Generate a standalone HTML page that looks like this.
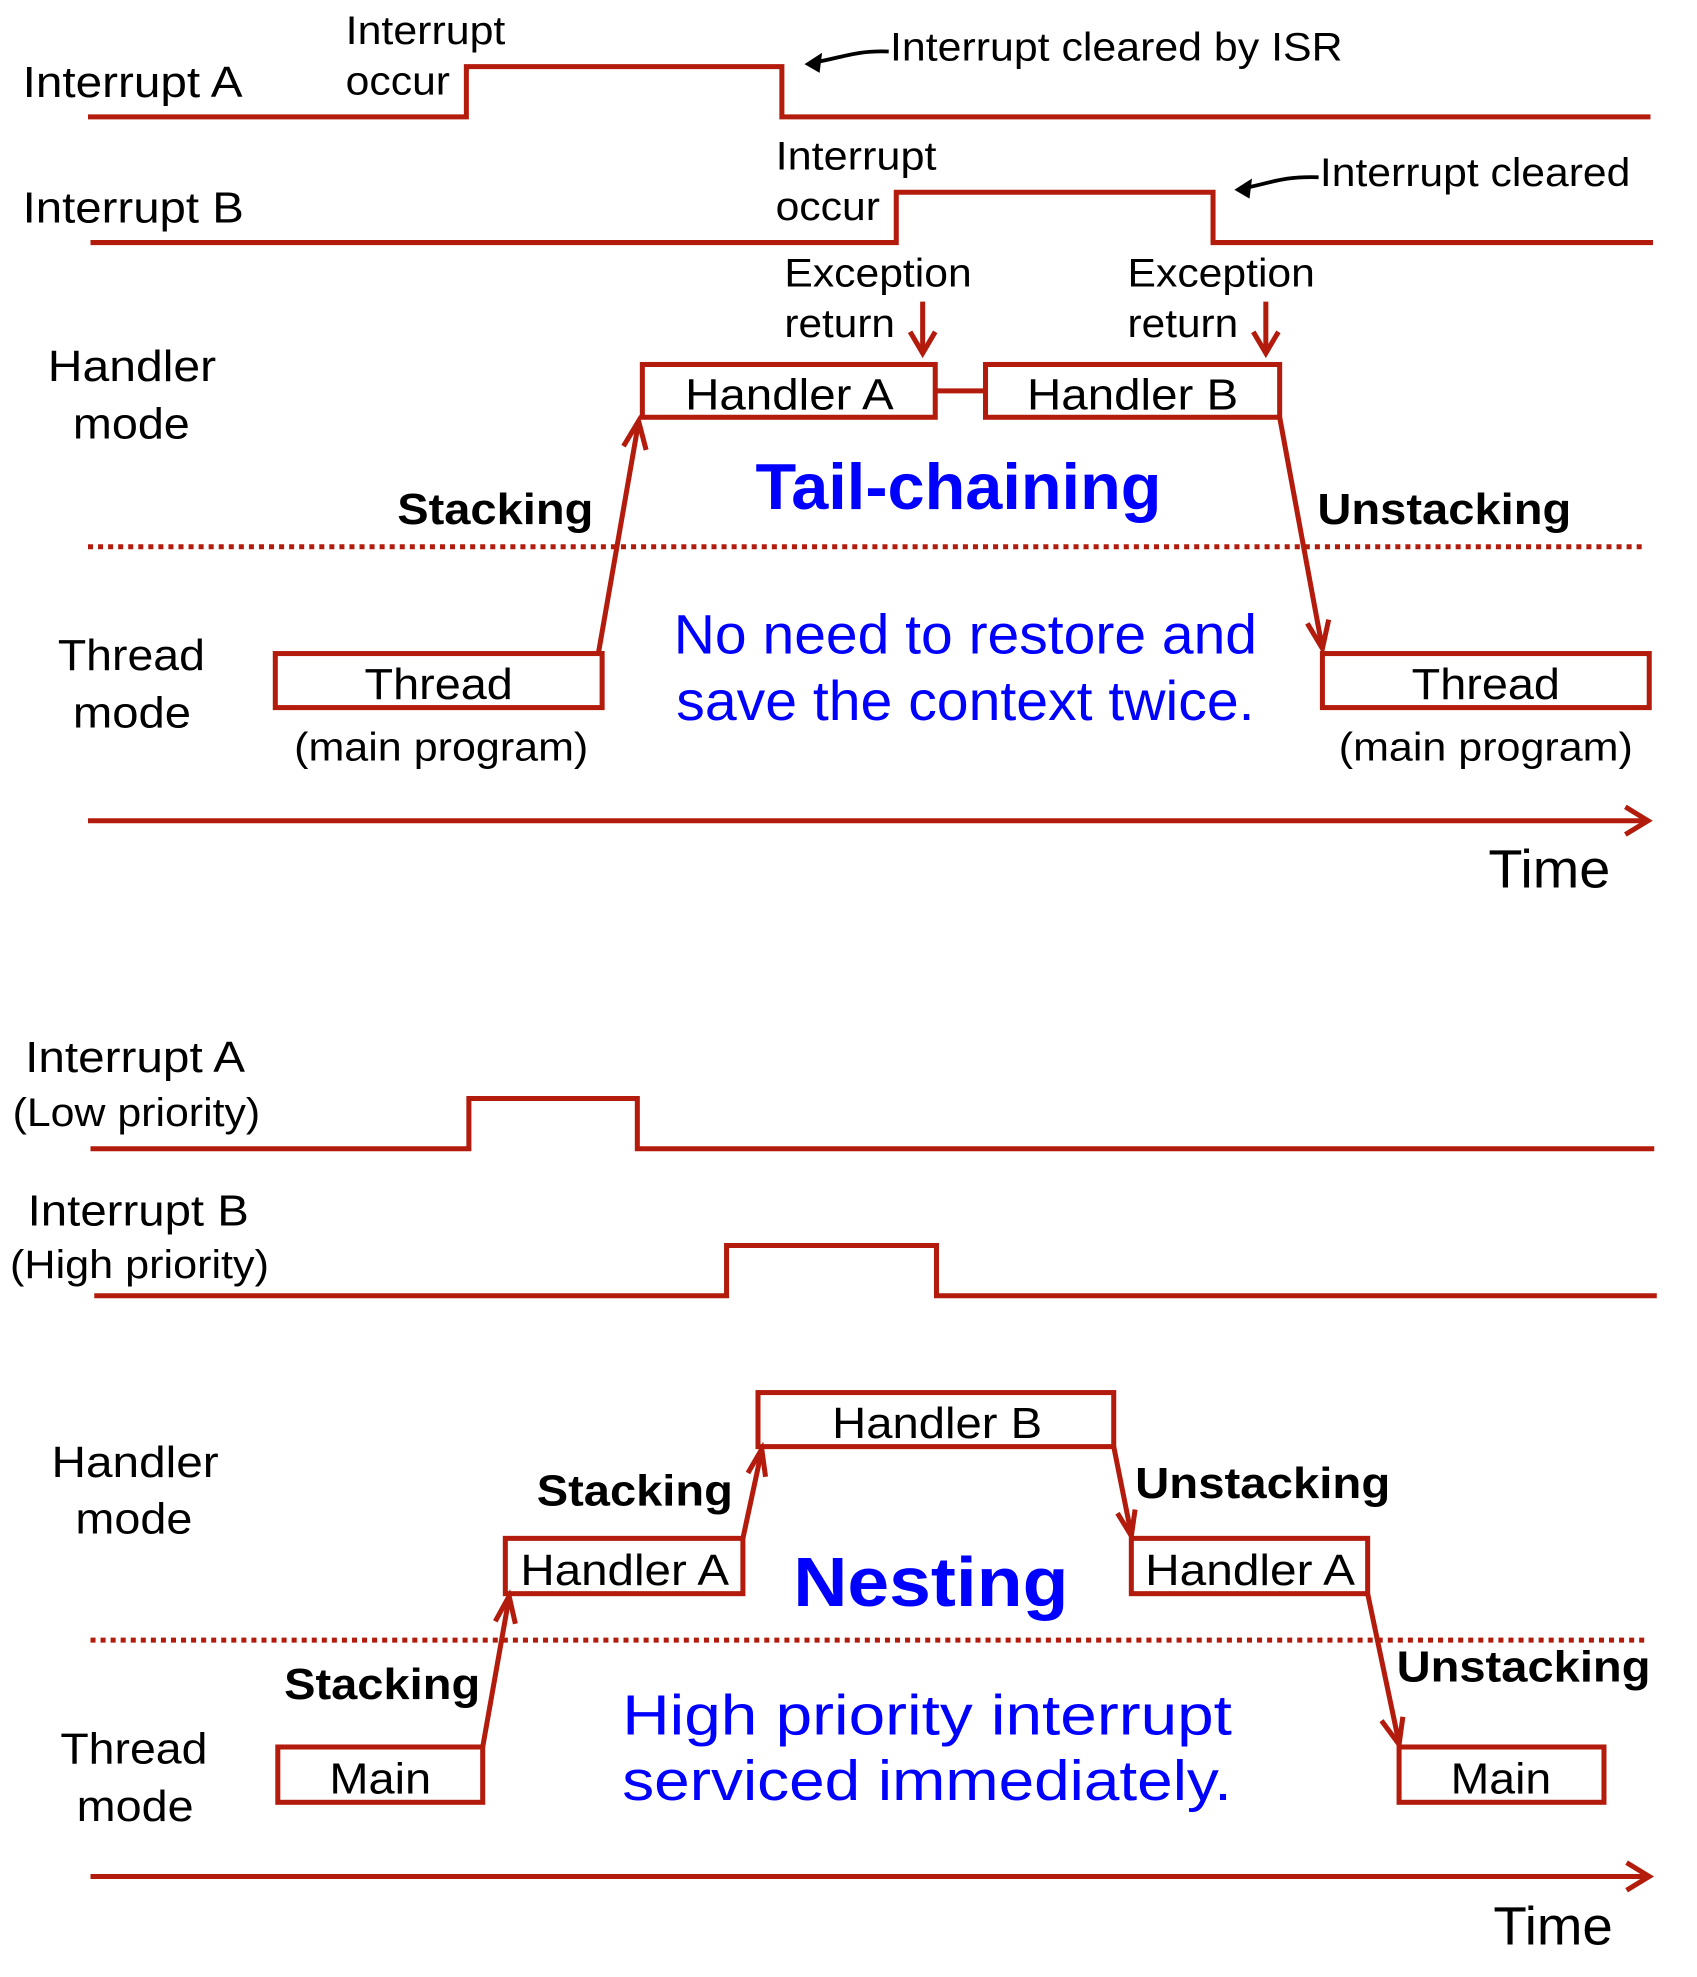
<!DOCTYPE html>
<html><head><meta charset="utf-8"><style>
html,body{margin:0;padding:0;background:#fff;}
svg{display:block;}
text{font-family:"Liberation Sans",Arial,sans-serif;fill:#000;}
.b{font-weight:bold;}
.blue{fill:#0000ff;}
</style></head><body>
<svg width="1697" height="1977" viewBox="0 0 1350 1573" preserveAspectRatio="none" xmlns="http://www.w3.org/2000/svg">
<g fill="none" stroke="#b31b0c" stroke-width="4">
<polyline points="70,93 371,93 371,53 622,53 622,93 1313,93"/>
<polyline points="72,193 713,193 713,153 965,153 965,193 1315,193"/>
<line x1="734" y1="240" x2="734" y2="280"/><polyline points="724,264 734,281 744,264"/>
<line x1="1007" y1="240" x2="1007" y2="280"/><polyline points="997,264 1007,281 1017,264"/>
<rect x="511" y="290" width="233" height="42"/>
<rect x="784" y="290" width="234" height="42"/>
<line x1="744" y1="311" x2="784" y2="311"/>
<rect x="219" y="520" width="260" height="43"/>
<rect x="1052" y="520" width="260" height="43"/>
<line x1="476" y1="520" x2="508" y2="336"/><polyline points="496,355 508,335 514,358"/>
<line x1="1018" y1="332" x2="1052" y2="516"/><polyline points="1040,496 1052,516 1057,493"/>
<line x1="70" y1="653" x2="1310" y2="653"/><polyline points="1293,642 1311,653 1293,664"/>
<polyline points="72,914 373,914 373,874 507,874 507,914 1316,914"/>
<polyline points="75,1031 578,1031 578,991 745,991 745,1031 1318,1031"/>
<rect x="603" y="1108" width="283" height="43"/>
<rect x="402" y="1224" width="189" height="44"/>
<rect x="900" y="1224" width="188" height="44"/>
<rect x="221" y="1390" width="163" height="44"/>
<rect x="1113" y="1390" width="163" height="44"/>
<line x1="384" y1="1390" x2="405" y2="1271"/><polyline points="394,1290 405,1270 410,1292"/>
<line x1="591" y1="1224" x2="606" y2="1154"/><polyline points="595,1172 606,1153 609,1175"/>
<line x1="886" y1="1151" x2="900" y2="1221"/><polyline points="889,1204 900,1222 903,1201"/>
<line x1="1088" y1="1268" x2="1113" y2="1387"/><polyline points="1099,1369 1113,1388 1116,1366"/>
<line x1="72" y1="1493" x2="1310" y2="1493"/><polyline points="1294,1482 1312,1493 1294,1504"/>
</g>
<g stroke="#b31b0c" stroke-width="4" stroke-dasharray="4,4">
<line x1="70" y1="435" x2="1310" y2="435"/>
<line x1="72" y1="1305" x2="1312" y2="1305"/>
</g>
<g fill="none" stroke="#000" stroke-width="3">
<path d="M707,41 C680,40 670,46 646,50"/>
<path d="M1049,141 C1020,140 1010,146 988,150"/>
</g>
<polygon points="640,51 654,42 652,58" fill="#000"/>
<polygon points="982,151 996,142 994,158" fill="#000"/>
<g font-size="35" lengthAdjust="spacingAndGlyphs">
<text x="18" y="77" textLength="175" lengthAdjust="spacingAndGlyphs">Interrupt A</text>
<text x="18" y="177" textLength="176" lengthAdjust="spacingAndGlyphs">Interrupt B</text>
<text x="38" y="303" textLength="134" lengthAdjust="spacingAndGlyphs">Handler</text>
<text x="58" y="349" textLength="93" lengthAdjust="spacingAndGlyphs">mode</text>
<text x="46" y="533" textLength="117" lengthAdjust="spacingAndGlyphs">Thread</text>
<text x="58" y="579" textLength="94" lengthAdjust="spacingAndGlyphs">mode</text>
<text x="545" y="326" textLength="166" lengthAdjust="spacingAndGlyphs">Handler A</text>
<text x="817" y="326" textLength="168" lengthAdjust="spacingAndGlyphs">Handler B</text>
<text x="290" y="556" textLength="118" lengthAdjust="spacingAndGlyphs">Thread</text>
<text x="1123" y="556" textLength="118" lengthAdjust="spacingAndGlyphs">Thread</text>
<text x="20" y="853" textLength="175" lengthAdjust="spacingAndGlyphs">Interrupt A</text>
<text x="22" y="975" textLength="176" lengthAdjust="spacingAndGlyphs">Interrupt B</text>
<text x="41" y="1175" textLength="133" lengthAdjust="spacingAndGlyphs">Handler</text>
<text x="60" y="1220" textLength="93" lengthAdjust="spacingAndGlyphs">mode</text>
<text x="48" y="1403" textLength="117" lengthAdjust="spacingAndGlyphs">Thread</text>
<text x="61" y="1449" textLength="93" lengthAdjust="spacingAndGlyphs">mode</text>
<text x="662" y="1144" textLength="167" lengthAdjust="spacingAndGlyphs">Handler B</text>
<text x="414" y="1261" textLength="166" lengthAdjust="spacingAndGlyphs">Handler A</text>
<text x="911" y="1261" textLength="167" lengthAdjust="spacingAndGlyphs">Handler A</text>
<text x="262" y="1427" textLength="81" lengthAdjust="spacingAndGlyphs">Main</text>
<text x="1154" y="1427" textLength="80" lengthAdjust="spacingAndGlyphs">Main</text>
</g>
<g font-size="32">
<text x="275" y="35" textLength="127" lengthAdjust="spacingAndGlyphs">Interrupt</text>
<text x="275" y="75" textLength="83" lengthAdjust="spacingAndGlyphs">occur</text>
<text x="708" y="48" textLength="360" lengthAdjust="spacingAndGlyphs">Interrupt cleared by ISR</text>
<text x="617" y="135" textLength="128" lengthAdjust="spacingAndGlyphs">Interrupt</text>
<text x="617" y="175" textLength="83" lengthAdjust="spacingAndGlyphs">occur</text>
<text x="1050" y="148" textLength="247" lengthAdjust="spacingAndGlyphs">Interrupt cleared</text>
<text x="624" y="228" textLength="149" lengthAdjust="spacingAndGlyphs">Exception</text>
<text x="624" y="268" textLength="88" lengthAdjust="spacingAndGlyphs">return</text>
<text x="897" y="228" textLength="149" lengthAdjust="spacingAndGlyphs">Exception</text>
<text x="897" y="268" textLength="88" lengthAdjust="spacingAndGlyphs">return</text>
<text x="234" y="605" textLength="234" lengthAdjust="spacingAndGlyphs">(main program)</text>
<text x="1065" y="605" textLength="234" lengthAdjust="spacingAndGlyphs">(main program)</text>
<text x="10" y="896" textLength="197" lengthAdjust="spacingAndGlyphs">(Low priority)</text>
<text x="8" y="1017" textLength="206" lengthAdjust="spacingAndGlyphs">(High priority)</text>
</g>
<g font-size="35" class="b">
<text x="316" y="417" class="b" textLength="156" lengthAdjust="spacingAndGlyphs">Stacking</text>
<text x="1048" y="417" class="b" textLength="202" lengthAdjust="spacingAndGlyphs">Unstacking</text>
<text x="427" y="1198" class="b" textLength="156" lengthAdjust="spacingAndGlyphs">Stacking</text>
<text x="903" y="1192" class="b" textLength="203" lengthAdjust="spacingAndGlyphs">Unstacking</text>
<text x="226" y="1352" class="b" textLength="156" lengthAdjust="spacingAndGlyphs">Stacking</text>
<text x="1111" y="1338" class="b" textLength="202" lengthAdjust="spacingAndGlyphs">Unstacking</text>
</g>
<text x="601" y="405" font-size="52" class="b blue" textLength="323" lengthAdjust="spacingAndGlyphs">Tail-chaining</text>
<text x="631" y="1278" font-size="55" class="b blue" textLength="219" lengthAdjust="spacingAndGlyphs">Nesting</text>
<text x="536" y="520" font-size="44" class="blue" textLength="464" lengthAdjust="spacingAndGlyphs">No need to restore and</text>
<text x="538" y="573" font-size="44" class="blue" textLength="460" lengthAdjust="spacingAndGlyphs">save the context twice.</text>
<text x="495" y="1380" font-size="45" class="blue" textLength="485" lengthAdjust="spacingAndGlyphs">High priority interrupt</text>
<text x="495" y="1432" font-size="45" class="blue" textLength="485" lengthAdjust="spacingAndGlyphs">serviced immediately.</text>
<text x="1184" y="706" font-size="43" textLength="97" lengthAdjust="spacingAndGlyphs">Time</text>
<text x="1188" y="1547" font-size="43" textLength="95" lengthAdjust="spacingAndGlyphs">Time</text>
</svg>
</body></html>
